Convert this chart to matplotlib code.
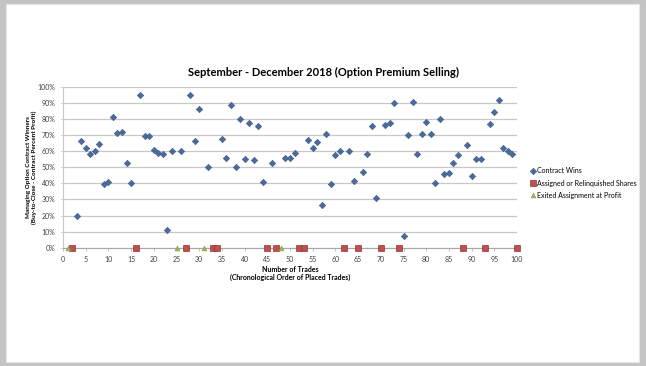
import matplotlib
matplotlib.use("Agg")
import matplotlib.pyplot as plt
from matplotlib.ticker import PercentFormatter, MultipleLocator
from matplotlib.patches import Rectangle

# trade number / percent profit for each outcome type
wins_x = [3, 4, 5, 6, 7, 8, 9, 10, 11, 12, 13, 14, 15,
          17, 18, 19, 20, 21, 22, 23, 24,
          26, 28, 29, 30, 32,
          35, 36, 37, 38, 39, 40, 41, 42, 43, 44,
          46, 49, 50, 51,
          54, 55, 56, 57, 58, 59, 60, 61,
          63, 64, 66, 67, 68, 69, 71, 72, 73,
          75, 76, 77, 78, 79, 80, 81, 82, 83, 84, 85, 86, 87,
          89, 90, 91, 92, 94, 95, 96, 97, 98, 99]
wins_y = [20, 66.5, 62, 58, 60, 64.5, 39.5, 41, 81.5, 71.5, 72, 53, 40,
          95, 69.5, 69.5, 60.5, 59, 58.5, 11, 60,
          60, 95, 66.5, 86, 50,
          67.5, 56, 89, 50, 80, 55.5, 77.5, 54.5, 76, 41,
          53, 56, 56, 59,
          67, 62, 66, 26.5, 70.5, 39.5, 57.5, 60,
          60, 41.5, 47, 58, 75.5, 31, 76.5, 77.5, 90,
          7.5, 70, 90.5, 58, 71, 78, 70.5, 40, 80, 46, 46.5, 53, 57.5,
          64, 44.5, 55.5, 55.5, 77, 84.5, 92, 62, 60, 58]

assigned_x = [2, 16, 27, 33, 34, 45, 47, 52, 53, 62, 65, 70, 74, 88, 93, 100]
assigned_y = [0] * len(assigned_x)

exited_x = [1, 25, 31, 48]
exited_y = [0] * len(exited_x)

title = "September - December 2018 (Option Premium Selling)"
font = "Lato"


def plot_trades(output_png):
    plt.rcParams["font.family"] = [font, "DejaVu Sans"]
    fig = plt.figure(figsize=(6.46, 3.66), dpi=100)
    fig.patch.set_facecolor("#c4c4c4")
    # white page inside the grey frame
    fig.patches.append(Rectangle((6 / 646, 4 / 366), 633 / 646, 358 / 366,
                                 transform=fig.transFigure, facecolor="white",
                                 edgecolor="#e6e6e6", linewidth=0.8, zorder=-5))

    ax = fig.add_axes([63 / 646, 1 - 247.7 / 366, 454 / 646, 160.7 / 366])
    ax.set_facecolor("none")

    ax.plot(wins_x, wins_y, "D", color="#4a6a9c", ms=3.3, mec="#3d5a87", mew=0.4,
            label="Contract Wins", clip_on=False, zorder=3)
    ax.plot(assigned_x, assigned_y, "s", color="#c0504d", ms=3.8, mec="#8c3836", mew=0.5,
            label="Assigned or Relinquished Shares", clip_on=False, zorder=3)
    ax.plot(exited_x, exited_y, "^", color="#9bbb59", ms=3.5, mec="#7f9a48", mew=0.4,
            label="Exited Assignment at Profit", clip_on=False, zorder=3)

    ax.set_xlim(0, 100)
    ax.set_ylim(0, 100)
    ax.xaxis.set_major_locator(MultipleLocator(5))
    ax.yaxis.set_major_locator(MultipleLocator(10))
    ax.yaxis.set_major_formatter(PercentFormatter(xmax=100, decimals=0))
    ax.grid(axis="y", color="#c8c8c8", linewidth=0.9)
    ax.set_axisbelow(True)
    for side in ["top", "right"]:
        ax.spines[side].set_visible(False)
    ax.spines["left"].set_color("#c8c8c8")
    ax.spines["bottom"].set_color("#a6a6a6")
    ax.tick_params(axis="both", labelsize=5, colors="#404040", length=2, width=0.5)
    ax.tick_params(axis="y", color="#c8c8c8")
    ax.tick_params(axis="x", color="#a6a6a6", pad=4)

    fig.text(324 / 646, 1 - 72 / 366, title, ha="center", va="center",
             fontsize=8, fontweight="bold", color="#000000")
    ax.set_xlabel("Number of Trades\n(Chronological Order of Placed Trades)",
                  fontsize=5, fontweight="bold", labelpad=2, linespacing=1.1)
    ax.set_ylabel("Managing Option Contract Winners\n(Buy-to-Close - Contract Percent Profit)",
                  fontsize=4.6, fontweight="bold", linespacing=1.1)
    ax.yaxis.set_label_coords(-0.058, 0.5)

    ax.legend(loc="center left", bbox_to_anchor=(531 / 646, 1 - 183 / 366),
              bbox_transform=fig.transFigure, frameon=False, fontsize=5,
              handlelength=0.6, handletextpad=0.3, labelspacing=0.75,
              borderaxespad=0, borderpad=0)

    fig.savefig(output_png, dpi=100, facecolor=fig.get_facecolor())


if __name__ == "__main__":
    plot_trades("out.png")
